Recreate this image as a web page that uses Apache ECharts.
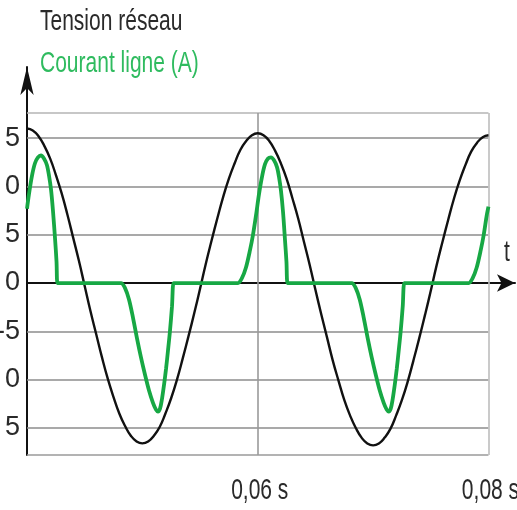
<!DOCTYPE html>
<html>
<head>
<meta charset="utf-8">
<script src="https://cdn.jsdelivr.net/npm/echarts@6/dist/echarts.min.js"></script>
<style>html,body{margin:0;padding:0;background:#fff}#c{width:517px;height:510px}</style>
</head>
<body>
<div id="c"></div>
<script>
// ---- data ----
const tensionTimes = [0.0400,0.0405,0.0410,0.0415,0.0420,0.0425,0.0430,0.0435,0.0440,0.0445,
  0.0450,0.0455,0.0460,0.0465,0.0470,0.0475,0.0480,0.0485,0.0490,0.0495,
  0.0500,0.0505,0.0510,0.0515,0.0520,0.0525,0.0530,0.0535,0.0540,0.0545,
  0.0550,0.0555,0.0560,0.0565,0.0570,0.0575,0.0580,0.0585,0.0590,0.0595,
  0.0600,0.0605,0.0610,0.0615,0.0620,0.0625,0.0630,0.0635,0.0640,0.0645,
  0.0650,0.0655,0.0660,0.0665,0.0670,0.0675,0.0680,0.0685,0.0690,0.0695,
  0.0700,0.0705,0.0710,0.0715,0.0720,0.0725,0.0730,0.0735,0.0740,0.0745,
  0.0750,0.0755,0.0760,0.0765,0.0770,0.0775,0.0780,0.0785,0.0790,0.0795,0.0800];
const tensionValues = [16.0,15.8,15.2,14.2,12.9,11.2,9.3,7.1,4.7,2.3,
  -0.3,-2.9,-5.3,-7.7,-9.9,-11.8,-13.5,-14.8,-15.8,-16.4,
  -16.6,-16.4,-15.8,-14.9,-13.5,-11.9,-10.0,-7.8,-5.5,-3.1,
  -0.6,2.0,4.4,6.7,8.9,10.8,12.4,13.8,14.7,15.3,
  15.5,15.3,14.7,13.7,12.4,10.8,8.8,6.7,4.3,1.9,
  -0.7,-3.2,-5.6,-8.0,-10.1,-12.1,-13.7,-15.0,-16.0,-16.6,
  -16.8,-16.6,-16.0,-15.1,-13.7,-12.1,-10.2,-8.0,-5.7,-3.3,
  -0.8,1.8,4.2,6.5,8.7,10.6,12.2,13.6,14.5,15.1,15.3];

const currentTimes = [0.04000,0.04017,0.04043,0.04069,0.04095,0.04121,0.04147,0.04173,0.04191,0.04208,0.04225,0.04243,0.04256,0.04264,0.04281,
  0.04798,0.04815,0.04849,0.04884,0.04919,0.04953,0.04988,0.05023,0.05057,0.05092,0.05118,0.05135,0.05153,0.05170,0.05187,0.05205,0.05222,0.05239,0.05257,0.05270,0.05287,
  0.05812,0.05829,0.05863,0.05898,0.05933,0.05959,0.05985,0.06011,0.06037,0.06063,0.06089,0.06115,0.06141,0.06167,0.06184,0.06201,0.06219,0.06236,0.06249,0.06258,0.06275,
  0.06798,0.06815,0.06849,0.06884,0.06919,0.06953,0.06988,0.07023,0.07057,0.07092,0.07118,0.07135,0.07153,0.07170,0.07187,0.07205,0.07222,0.07239,0.07257,0.07270,0.07287,
  0.07812,0.07829,0.07863,0.07898,0.07933,0.07959,0.07985,0.08000];
const currentValues = [7.7,9.2,11.1,12.4,13.0,13.2,12.9,12.2,11.1,9.7,7.5,4.6,2.2,0,0,
  0,0,-0.5,-1.7,-3.6,-5.7,-7.7,-9.5,-11.1,-12.4,-13.1,-13.3,-13.0,-12.0,-10.6,-8.9,-7.0,-5.0,-2.4,0,0,
  0,0,0.5,1.6,3.4,5.0,7.0,9.2,11.0,12.3,12.9,13.0,12.7,12.0,11.0,9.6,7.4,4.5,2.2,0,0,
  0,0,-0.5,-1.7,-3.6,-5.7,-7.7,-9.5,-11.1,-12.4,-13.1,-13.3,-13.0,-12.0,-10.6,-8.9,-7.0,-5.0,-2.4,0,0,
  0,0,0.5,1.6,3.4,5.0,7.0,7.9];

const yTickValues = [15, 10, 5, 0, -5, -10, -15];
const yTickLabels = ['5', '0', '5', '0', '-5', '0', '5'];
const xTickValues = [0.06, 0.08];
const xTickLabels = ['0,06 s', '0,08 s'];

const plotX = [0.04, 0.08];      // framed box, time
const plotY = [-17.8, 17.6];     // framed box, value
const axisMaxX = 0.0823;         // axis arrows run past the box
const axisMaxY = 22.36;

// ---- chart ----
const FF = "'Liberation Sans', Arial, sans-serif";
const chart = echarts.init(document.getElementById('c'), null, {renderer: 'canvas'});

const gridColor = '#8c8c8c';
const mlData = [];
yTickValues.forEach((v, i) => {
  mlData.push([
    {coord: [plotX[0], v], label: {formatter: yTickLabels[i]},
     lineStyle: v === 0 ? {color: '#111', width: 2} : {color: gridColor, width: 1.6}},
    {coord: [plotX[1], v]}
  ]);
});
mlData.push([{coord: [plotX[0], plotY[1]], label: {show: false}, lineStyle: {color: '#b4b4b4', width: 1.6}}, {coord: [plotX[1], plotY[1]]}]);
mlData.push([{coord: [plotX[0], plotY[0]], label: {show: false}, lineStyle: {color: '#9a9a9a', width: 1.6}}, {coord: [plotX[1], plotY[0]]}]);
xTickValues.forEach((t, i) => {
  mlData.push([
    {coord: [t, plotY[0]], label: {show: false},
     lineStyle: {color: i === 0 ? '#9a9a9a' : '#bdbdbd', width: 1.6}},
    {coord: [t, plotY[1]]}
  ]);
});

function squeezedText(str, x, y, color, align) {
  return {
    type: 'text', x: x, y: y, scaleX: 0.7, scaleY: 1, silent: true,
    style: {text: str, x: 0, y: 0, font: '30px ' + FF, fill: color,
            align: align || 'left', verticalAlign: 'top',
            textAlign: align || 'left', textVerticalAlign: 'top'}
  };
}

const option = {
  animation: false,
  backgroundColor: '#ffffff',
  grid: {left: 27, right: 2, top: 67, bottom: 55},
  xAxis: {
    type: 'value', min: plotX[0], max: axisMaxX,
    axisLine: {show: true, onZero: true, lineStyle: {color: '#111', width: 2},
               symbol: ['none', 'arrow'], symbolSize: [13, 18]},
    axisTick: {show: false}, axisLabel: {show: false}, splitLine: {show: false}
  },
  yAxis: {
    type: 'value', min: plotY[0], max: axisMaxY,
    axisLine: {show: true, onZero: false, lineStyle: {color: '#111', width: 2},
               symbol: ['none', 'arrow'], symbolSize: [10, 28]},
    axisTick: {show: false}, axisLabel: {show: false}, splitLine: {show: false}
  },
  graphic: [
    squeezedText('Tension réseau', 40, 7, '#2a2a2a'),
    squeezedText('Courant ligne (A)', 40, 49, '#2fbb5f'),
    squeezedText('t', 504, 238, '#2a2a2a')
  ],
  series: [
    {
      type: 'line', data: [], silent: true, z: 1,
      markLine: {
        silent: true, z: 1, symbol: ['none', 'none'], animation: false,
        label: {show: true, position: 'start', distance: 7, fontFamily: FF, fontSize: 27, color: '#2a2a2a'},
        lineStyle: {type: 'solid'},
        emphasis: {disabled: true},
        data: mlData
      }
    },
    {
      name: 'Tension réseau', type: 'line', z: 3, smooth: true, symbol: 'none',
      lineStyle: {color: '#111', width: 2.4},
      data: tensionTimes.map((t, i) => [t, tensionValues[i]])
    },
    {
      name: 'Courant ligne (A)', type: 'line', z: 4, smooth: 0.3, symbol: 'none',
      lineStyle: {color: '#17a844', width: 3.8},
      data: currentTimes.map((t, i) => [t, currentValues[i]])
    }
  ]
};
chart.setOption(option);

// time tick labels, placed through the chart's own x scale
const tickGraphics = xTickValues.map((t, i) => {
  const p = chart.convertToPixel({gridIndex: 0}, [t, plotY[0]]);
  return squeezedText(xTickLabels[i], p[0] + 2, p[1] + 21, '#2a2a2a', 'center');
});
chart.setOption({graphic: option.graphic.concat(tickGraphics)});
</script>
</body>
</html>
